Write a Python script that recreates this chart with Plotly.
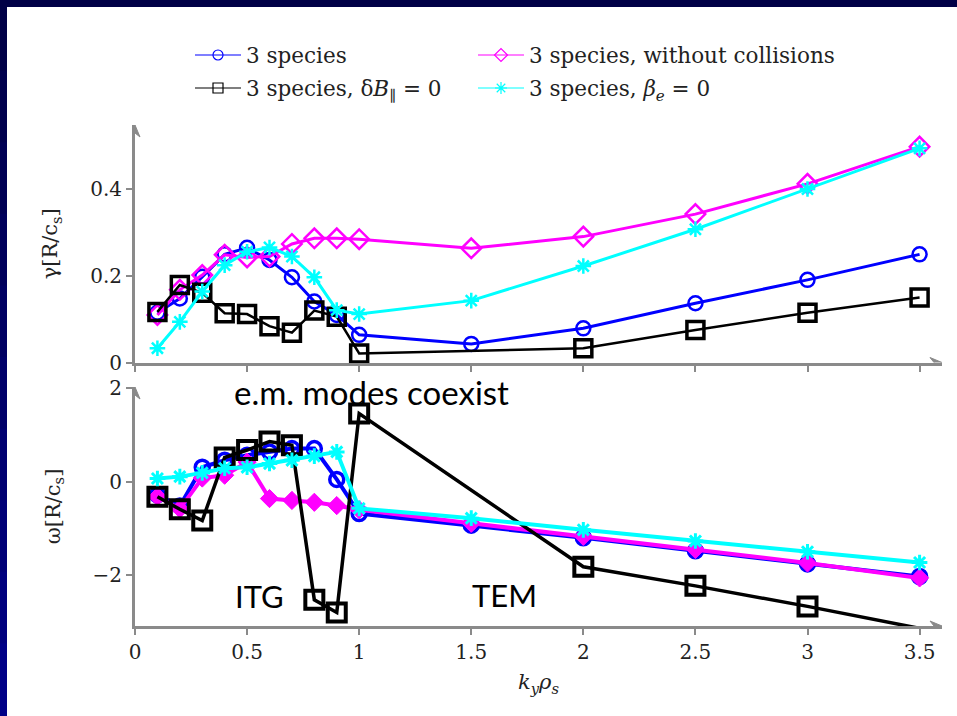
import plotly.graph_objects as go

# ---------------- data ----------------
ky = [0.1, 0.2, 0.3, 0.4, 0.5, 0.6, 0.7, 0.8, 0.9, 1.0, 1.5, 2.0, 2.5, 3.0, 3.5]
ky_dB0 = [0.1, 0.2, 0.3, 0.4, 0.5, 0.6, 0.7, 0.8, 0.9, 1.0, 2.0, 2.5, 3.0, 3.5]

gamma_3sp = [0.115, 0.148, 0.198, 0.250, 0.265, 0.237, 0.197, 0.141, 0.110, 0.064,
             0.043, 0.079, 0.137, 0.191, 0.250]
gamma_nocoll = [0.110, 0.168, 0.202, 0.249, 0.243, 0.245, 0.274, 0.287, 0.287, 0.285,
                0.264, 0.291, 0.343, 0.413, 0.499]
gamma_dB0 = [0.117, 0.179, 0.161, 0.114, 0.112, 0.084, 0.069, 0.120, 0.106, 0.021,
             0.033, 0.075, 0.115, 0.150]
gamma_be0 = [0.033, 0.094, 0.164, 0.225, 0.256, 0.266, 0.245, 0.197, 0.121, 0.112,
             0.143, 0.223, 0.308, 0.401, 0.495]

omega_3sp = [-0.28, -0.52, 0.31, 0.46, 0.57, 0.64, 0.71, 0.71, 0.05, -0.68,
             -0.93, -1.20, -1.48, -1.76, -2.03]
omega_nocoll = [-0.32, -0.58, 0.08, 0.14, 0.42, -0.36, -0.40, -0.44, -0.51, -0.60,
                -0.89, -1.17, -1.45, -1.74, -2.06]
omega_dB0 = [-0.32, -0.59, -0.83, 0.52, 0.68, 0.86, 0.78, -2.53, -2.80, 1.46,
             -1.82, -2.23, -2.67, -3.14]
omega_be0 = [0.07, 0.11, 0.19, 0.29, 0.31, 0.39, 0.46, 0.55, 0.64, -0.57,
             -0.78, -1.03, -1.27, -1.50, -1.73]

names = ["3 species",
         "3 species, without collisions",
         "3 species, δ<i>B</i><sub>∥</sub> = 0",
         "3 species, <i>β<sub>e</sub></i> = 0"]
colors = ["#0000ff", "#ff00ff", "#000000", "#00ffff"]

x_ticks = [0, 0.5, 1, 1.5, 2, 2.5, 3, 3.5]
x_ticklabels = ["0", "0.5", "1", "1.5", "2", "2.5", "3", "3.5"]
gamma_ticks = [0, 0.2, 0.4]
omega_ticks = [-2, 0, 2]

# ---------------- geometry ----------------
W, H = 957, 716
L, R, T, B = 135, 15, 125, 90
PW, PH = W - L - R, H - T - B
XMAX = 3.6
G_RANGE = [0, 0.549]
O_RANGE = [-3.09, 2.03]


def px_x(px):
    return (px - L) / PW


def px_y(py):
    return (H - B - py) / PH


fig = go.Figure()

styles_top = [
    dict(symbol="circle-open", size=14, line=dict(width=2.5)),
    dict(symbol="diamond-open", size=15, line=dict(width=2.5)),
    dict(symbol="square-open", size=17, line=dict(width=3.5)),
    dict(symbol="asterisk-open", size=13, line=dict(width=2.5)),
]
styles_bot = [
    dict(symbol="circle-open", size=14, line=dict(width=3.5)),
    dict(symbol="diamond", size=14, line=dict(width=1)),
    dict(symbol="square-open", size=18, line=dict(width=4)),
    dict(symbol="asterisk-open", size=13, line=dict(width=3)),
]
xs = [ky, ky, ky_dB0, ky]
gam = [gamma_3sp, gamma_nocoll, gamma_dB0, gamma_be0]
omg = [omega_3sp, omega_nocoll, omega_dB0, omega_be0]
lw_top = [3, 3, 2.5, 3]
lw_bot = [4, 4, 3.5, 4]

for i in range(4):
    st = dict(styles_top[i]); st["color"] = colors[i]; st["line"] = dict(st["line"], color=colors[i])
    fig.add_trace(go.Scatter(x=xs[i], y=gam[i], mode="lines+markers", showlegend=False,
                             line=dict(color=colors[i], width=lw_top[i]), marker=st,
                             cliponaxis=False, xaxis="x", yaxis="y"))
for i in range(4):
    st = dict(styles_bot[i]); st["color"] = colors[i]; st["line"] = dict(st["line"], color=colors[i])
    # points outside the axis range are not marked (as in the original pgfplots figure)
    st["opacity"] = [1 if O_RANGE[0] <= v <= O_RANGE[1] else 0 for v in omg[i]]
    fig.add_trace(go.Scatter(x=xs[i], y=omg[i], mode="lines+markers", showlegend=False,
                             line=dict(color=colors[i], width=lw_bot[i]), marker=st,
                             cliponaxis=True, xaxis="x2", yaxis="y2"))

# legend-only samples (thin style like the reference legend)
leg_sym = ["circle-open", "diamond-open", "square-open", "asterisk-open"]
leg_ids = ["legend", "legend2", "legend3", "legend4"]
for i in range(4):
    fig.add_trace(go.Scatter(x=[None], y=[None], mode="lines+markers", name=names[i],
                             line=dict(color=colors[i], width=1.2),
                             marker=dict(symbol=leg_sym[i], size=10, color=colors[i],
                                         line=dict(color=colors[i], width=1.2)),
                             legend=leg_ids[i], xaxis="x", yaxis="y"))

serif = "DejaVu Serif"
grey = "#8a8a8a"
tickfont = dict(family=serif, size=20, color="#222222")

legfont = dict(family=serif, size=21.5, color="#222222")
col1, col2 = px_x(190), px_x(473)
row1, row2 = px_y(55), px_y(88)
legpos = [(col1, row1), (col2, row1), (col1, row2), (col2, row2)]
for lid, (lx, ly) in zip(leg_ids, legpos):
    fig.update_layout({lid: dict(x=lx, y=ly, xanchor="left", yanchor="middle",
                                 bgcolor="rgba(0,0,0,0)", borderwidth=0, font=legfont,
                                 itemwidth=46, itemclick=False, itemdoubleclick=False)})

axis_common = dict(showline=True, linecolor=grey, linewidth=3, showgrid=False,
                   zeroline=False, ticks="outside", tickcolor=grey, ticklen=6,
                   tickwidth=1.5, tickfont=tickfont)

fig.update_layout(
    width=W, height=H,
    margin=dict(l=L, r=R, t=T, b=B),
    paper_bgcolor="white", plot_bgcolor="white",
    xaxis=dict(axis_common, domain=[0, 1], range=[0, XMAX], anchor="y",
               tickvals=x_ticks, showticklabels=False),
    yaxis=dict(axis_common, domain=[px_y(362.5), 1], range=G_RANGE, anchor="x",
               tickvals=gamma_ticks, ticktext=["0", "0.2", "0.4"],
               title=dict(text="γ[R/c<sub>s</sub>]", font=dict(family=serif, size=21, color="#222222"),
                          standoff=27)),
    xaxis2=dict(axis_common, domain=[0, 1], range=[0, XMAX], anchor="y2",
                tickvals=x_ticks, ticktext=x_ticklabels,
                title=dict(text="<i>k<sub>y</sub>ρ<sub>s</sub></i>",
                           font=dict(family=serif, size=21, color="#222222"), standoff=12)),
    yaxis2=dict(axis_common, domain=[0, px_y(387)], range=O_RANGE, anchor="x2",
                tickvals=omega_ticks,
                title=dict(text="ω[R/c<sub>s</sub>]", font=dict(family=serif, size=21, color="#222222"),
                           standoff=27)),
)

# axis arrowheads (pixel-sized path shapes anchored at the axis ends)
head_right = "M 0,0 L -12,-5 L -8,0 L -12,5 Z"
head_up = "M 0,0 L -5,-12 L 0,-8 L 5,-12 Z"
for xr, yr, xa, ya, p in [("x", "y", XMAX, 0, head_right),
                          ("x", "y", 0, G_RANGE[1], head_up),
                          ("x2", "y2", XMAX, O_RANGE[0], head_right),
                          ("x2", "y2", 0, O_RANGE[1], head_up)]:
    fig.add_shape(type="path", xref=xr, yref=yr, xsizemode="pixel", ysizemode="pixel",
                  xanchor=xa, yanchor=ya, path=p, fillcolor=grey,
                  line=dict(color=grey, width=1), layer="above")

# text annotations
sans = "Lato"
fig.add_annotation(text="e.m. modes coexist", x=1.055, y=1.92, xref="x2", yref="y2",
                   showarrow=False, font=dict(family=sans, size=33, color="black"))
fig.add_annotation(text="ITG", x=0.555, y=-2.45, xref="x2", yref="y2",
                   showarrow=False, font=dict(family=sans, size=31, color="black"))
fig.add_annotation(text="TEM", x=1.65, y=-2.42, xref="x2", yref="y2",
                   showarrow=False, font=dict(family=sans, size=31, color="black"))

# navy slide frame (top and left strips)
fig.add_shape(type="rect", xref="paper", yref="paper", x0=px_x(0), x1=px_x(W),
              y0=px_y(0), y1=px_y(7), fillcolor="#000046", line=dict(width=0), layer="above")
nseg = 10
for k in range(nseg):
    y0p, y1p = k * H / nseg - 1, (k + 1) * H / nseg + 1
    c = int(0x46 + (0x86 - 0x46) * k / (nseg - 1))
    fig.add_shape(type="rect", xref="paper", yref="paper", x0=px_x(0), x1=px_x(7),
                  y0=px_y(y0p), y1=px_y(y1p), fillcolor="#0000%02x" % c,
                  line=dict(width=0), layer="above")

fig.write_html("out.html")
